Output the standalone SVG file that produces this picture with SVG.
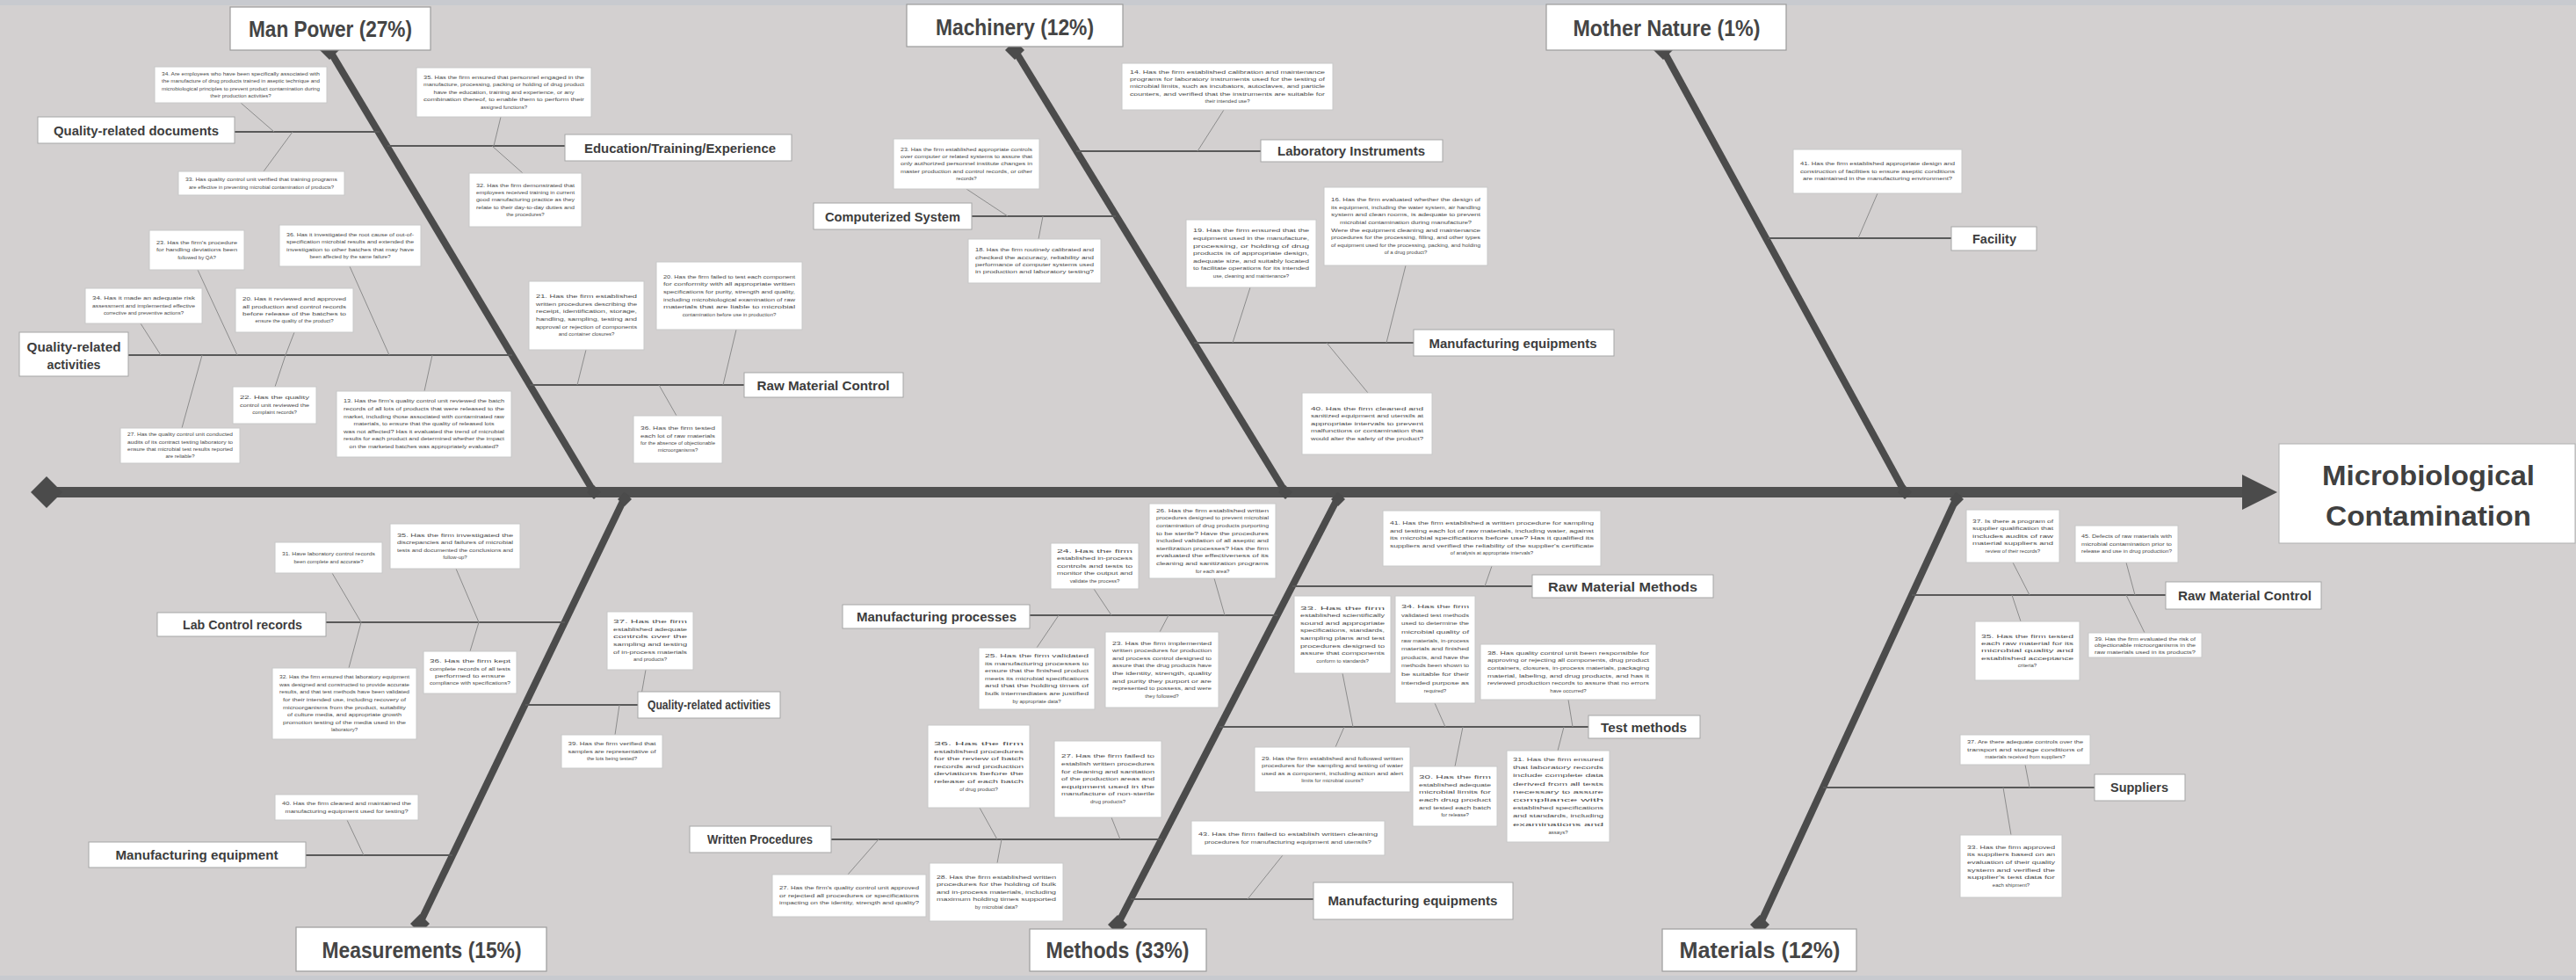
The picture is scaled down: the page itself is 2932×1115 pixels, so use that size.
<svg xmlns="http://www.w3.org/2000/svg" width="2932" height="1115" viewBox="0 0 2932 1115">
<style>
.bone{stroke:#4b4b4b;stroke-width:8;fill:none}
.spine{stroke:#4f4f4f;stroke-width:12;fill:none}
.sub{stroke:#595959;stroke-width:1.8;fill:none}
.leaf{stroke:#8c8c8c;stroke-width:1;fill:none}
.knot{fill:#4b4b4b}
.cat rect{fill:#fff;stroke:#9c9c9c;stroke-width:1.2}
.cat text{font-family:"Liberation Sans",Arial,sans-serif;font-weight:bold;font-size:26px;fill:#454545;text-anchor:middle}
.lbl rect{fill:#fff;stroke:#a6a6a6;stroke-width:1}
.lbl text{font-family:"Liberation Sans",Arial,sans-serif;font-weight:bold;font-size:15px;fill:#3d3d3d;text-anchor:middle}
.note rect{fill:#fff;stroke:#c8c8c8;stroke-width:1}
.note text{font-family:"Liberation Sans",Arial,sans-serif;font-size:6px;fill:#4a4a4a;text-anchor:middle}
.head rect{fill:#fff;stroke:#b0b0b0;stroke-width:1}
.head text{font-family:"Liberation Sans",Arial,sans-serif;font-weight:bold;font-size:32px;fill:#404040;text-anchor:middle}
</style>
<rect x="0" y="0" width="2932" height="1115" fill="#d3d0d0"/>
<rect x="0" y="0" width="2932" height="6" fill="#c8cacf"/>
<rect x="0" y="1110" width="2932" height="5" fill="#c8cacf"/>

<!-- connectors: spine, main bones, sub-bones and leaf lines -->
<g id="connectors">
  <line class="spine" x1="53" y1="560" x2="2556" y2="560"/>
  <polygon class="knot" points="2552,540 2592,560 2552,580"/>
  <polygon class="knot" points="53,542 71,560 53,578 35,560"/>

  <!-- upper bones -->
  <line class="bone" x1="375" y1="57" x2="676" y2="560"/>
  <line class="bone" x1="1155" y1="57" x2="1463" y2="560"/>
  <line class="bone" x1="1893" y1="57" x2="2168" y2="560"/>
  <!-- lower bones -->
  <line class="bone" x1="713" y1="562" x2="478" y2="1050"/>
  <line class="bone" x1="1525" y1="562" x2="1272" y2="1052"/>
  <line class="bone" x1="2229" y1="562" x2="2003" y2="1052"/>

  <!-- bone end knots -->
  <polygon class="knot" points="375,46 386,57 375,68 364,57"/>
  <polygon class="knot" points="1155,46 1166,57 1155,68 1144,57"/>
  <polygon class="knot" points="1893,46 1904,57 1893,68 1882,57"/>
  <polygon class="knot" points="478,1040 489,1051 478,1062 467,1051"/>
  <polygon class="knot" points="1272,1041 1283,1052 1272,1063 1261,1052"/>
  <polygon class="knot" points="2003,1041 2014,1052 2003,1063 1992,1052"/>
  <polygon class="knot" points="676,552 684,560 676,568 668,560"/>
  <polygon class="knot" points="1463,552 1471,560 1463,568 1455,560"/>
  <polygon class="knot" points="2168,552 2176,560 2168,568 2160,560"/>
  <polygon class="knot" points="711,560 719,568 711,576 703,568"/>
  <polygon class="knot" points="1523,560 1531,568 1523,576 1515,568"/>
  <polygon class="knot" points="2227,560 2235,568 2227,576 2219,568"/>

  <!-- Man Power sub-bones -->
  <line class="sub" x1="267" y1="150" x2="432" y2="150"/>
  <line class="sub" x1="441" y1="166" x2="643" y2="166"/>
  <line class="sub" x1="146" y1="404" x2="583" y2="404"/>
  <line class="sub" x1="603" y1="438" x2="847" y2="438"/>
  <!-- Machinery sub-bones -->
  <line class="sub" x1="1225" y1="172" x2="1435" y2="172"/>
  <line class="sub" x1="1106" y1="246" x2="1270" y2="246"/>
  <line class="sub" x1="1359" y1="390" x2="1609" y2="390"/>
  <!-- Mother Nature sub-bone -->
  <line class="sub" x1="2012" y1="271" x2="2221" y2="271"/>
  <!-- Measurements sub-bones -->
  <line class="sub" x1="371" y1="708" x2="643" y2="708"/>
  <line class="sub" x1="598" y1="802" x2="726" y2="802"/>
  <line class="sub" x1="348" y1="973" x2="515" y2="973"/>
  <!-- Methods sub-bones -->
  <line class="sub" x1="1172" y1="700" x2="1454" y2="700"/>
  <line class="sub" x1="946" y1="955" x2="1322" y2="955"/>
  <line class="sub" x1="1287" y1="1023" x2="1495" y2="1023"/>
  <line class="sub" x1="1471" y1="667" x2="1744" y2="667"/>
  <line class="sub" x1="1388" y1="827" x2="1808" y2="827"/>
  <!-- Materials sub-bones -->
  <line class="sub" x1="2176" y1="677" x2="2465" y2="677"/>
  <line class="sub" x1="2075" y1="896" x2="2384" y2="896"/>

  <!-- leaf lines from notes -->
  <line class="leaf" x1="274" y1="117" x2="312" y2="150"/>
  <line class="leaf" x1="300" y1="195" x2="333" y2="150"/>
  <line class="leaf" x1="570" y1="133" x2="562" y2="166"/>
  <line class="leaf" x1="595" y1="197" x2="560" y2="166"/>
  <line class="leaf" x1="225" y1="307" x2="270" y2="404"/>
  <line class="leaf" x1="398" y1="303" x2="443" y2="404"/>
  <line class="leaf" x1="160" y1="368" x2="183" y2="404"/>
  <line class="leaf" x1="335" y1="378" x2="325" y2="404"/>
  <line class="leaf" x1="313" y1="440" x2="325" y2="404"/>
  <line class="leaf" x1="207" y1="487" x2="230" y2="404"/>
  <line class="leaf" x1="483" y1="445" x2="492" y2="404"/>
  <line class="leaf" x1="667" y1="398" x2="657" y2="438"/>
  <line class="leaf" x1="838" y1="375" x2="823" y2="438"/>
  <line class="leaf" x1="770" y1="473" x2="750" y2="438"/>
  <line class="leaf" x1="1393" y1="125" x2="1363" y2="172"/>
  <line class="leaf" x1="1100" y1="215" x2="1147" y2="246"/>
  <line class="leaf" x1="1182" y1="272" x2="1187" y2="246"/>
  <line class="leaf" x1="1423" y1="327" x2="1403" y2="390"/>
  <line class="leaf" x1="1600" y1="302" x2="1578" y2="390"/>
  <line class="leaf" x1="1557" y1="447" x2="1510" y2="390"/>
  <line class="leaf" x1="2137" y1="220" x2="2115" y2="271"/>
  <line class="leaf" x1="378" y1="652" x2="411" y2="708"/>
  <line class="leaf" x1="519" y1="647" x2="545" y2="708"/>
  <line class="leaf" x1="397" y1="760" x2="411" y2="708"/>
  <line class="leaf" x1="535" y1="741" x2="545" y2="708"/>
  <line class="leaf" x1="735" y1="762" x2="728" y2="802"/>
  <line class="leaf" x1="700" y1="836" x2="705" y2="802"/>
  <line class="leaf" x1="395" y1="933" x2="414" y2="973"/>
  <line class="leaf" x1="1382" y1="658" x2="1394" y2="700"/>
  <line class="leaf" x1="1245" y1="670" x2="1265" y2="700"/>
  <line class="leaf" x1="1180" y1="737" x2="1205" y2="700"/>
  <line class="leaf" x1="1320" y1="719" x2="1330" y2="700"/>
  <line class="leaf" x1="1115" y1="919" x2="1135" y2="955"/>
  <line class="leaf" x1="1265" y1="930" x2="1275" y2="955"/>
  <line class="leaf" x1="1135" y1="982" x2="1140" y2="955"/>
  <line class="leaf" x1="965" y1="995" x2="1000" y2="955"/>
  <line class="leaf" x1="1460" y1="973" x2="1420" y2="1023"/>
  <line class="leaf" x1="1520" y1="850" x2="1530" y2="827"/>
  <line class="leaf" x1="1528" y1="766" x2="1540" y2="827"/>
  <line class="leaf" x1="1633" y1="800" x2="1645" y2="827"/>
  <line class="leaf" x1="1785" y1="796" x2="1790" y2="827"/>
  <line class="leaf" x1="1656" y1="872" x2="1665" y2="827"/>
  <line class="leaf" x1="1773" y1="854" x2="1780" y2="827"/>
  <line class="leaf" x1="1698" y1="644" x2="1690" y2="667"/>
  <line class="leaf" x1="2291" y1="640" x2="2310" y2="677"/>
  <line class="leaf" x1="2420" y1="640" x2="2430" y2="677"/>
  <line class="leaf" x1="2300" y1="707" x2="2290" y2="677"/>
  <line class="leaf" x1="2441" y1="720" x2="2420" y2="677"/>
  <line class="leaf" x1="2305" y1="870" x2="2310" y2="896"/>
  <line class="leaf" x1="2289" y1="950" x2="2280" y2="896"/>
</g>

<!-- effect -->
<g id="effect" class="head">
  <rect x="2594" y="505" width="337" height="113"/>
  <text x="2764" y="552" textLength="242" lengthAdjust="spacingAndGlyphs">Microbiological</text>
  <text x="2764" y="598" textLength="234" lengthAdjust="spacingAndGlyphs">Contamination</text>
</g>

<!-- main categories -->
<g id="cat-manpower" class="cat"><rect x="262" y="8" width="228" height="49"/><text x="376" y="42" textLength="186" lengthAdjust="spacingAndGlyphs">Man Power (27%)</text></g>
<g id="cat-machinery" class="cat"><rect x="1032" y="5" width="246" height="48"/><text x="1155" y="40" textLength="180" lengthAdjust="spacingAndGlyphs">Machinery (12%)</text></g>
<g id="cat-mothernature" class="cat"><rect x="1760" y="5" width="273" height="52"/><text x="1897" y="41" textLength="213" lengthAdjust="spacingAndGlyphs">Mother Nature (1%)</text></g>
<g id="cat-measurements" class="cat"><rect x="337" y="1055" width="285" height="50"/><text x="480" y="1090" textLength="227" lengthAdjust="spacingAndGlyphs">Measurements (15%)</text></g>
<g id="cat-methods" class="cat"><rect x="1172" y="1057" width="201" height="48"/><text x="1272" y="1090" textLength="163" lengthAdjust="spacingAndGlyphs">Methods (33%)</text></g>
<g id="cat-materials" class="cat"><rect x="1892" y="1057" width="221" height="48"/><text x="2003" y="1090" textLength="183" lengthAdjust="spacingAndGlyphs">Materials (12%)</text></g>

<!-- sub-cause labels -->
<g id="lbl-qr-documents" class="lbl"><rect x="43" y="133" width="224" height="30"/><text x="155" y="154" textLength="188" lengthAdjust="spacingAndGlyphs">Quality-related documents</text></g>
<g id="lbl-education" class="lbl"><rect x="643" y="153" width="258" height="30"/><text x="774" y="174" textLength="218" lengthAdjust="spacingAndGlyphs">Education/Training/Experience</text></g>
<g id="lbl-qr-activities" class="lbl"><rect x="22" y="378" width="124" height="50"/><text x="84" y="400" textLength="107" lengthAdjust="spacingAndGlyphs">Quality-related</text><text x="84" y="420" textLength="61" lengthAdjust="spacingAndGlyphs">activities</text></g>
<g id="lbl-rawmat-control-1" class="lbl"><rect x="847" y="424" width="181" height="28"/><text x="937" y="444" textLength="151" lengthAdjust="spacingAndGlyphs">Raw Material Control</text></g>
<g id="lbl-computerized" class="lbl"><rect x="926" y="231" width="180" height="30"/><text x="1016" y="252" textLength="154" lengthAdjust="spacingAndGlyphs">Computerized System</text></g>
<g id="lbl-lab-instruments" class="lbl"><rect x="1435" y="159" width="207" height="25"/><text x="1538" y="177" textLength="168" lengthAdjust="spacingAndGlyphs">Laboratory Instruments</text></g>
<g id="lbl-mfg-equipments-1" class="lbl"><rect x="1609" y="375" width="228" height="30"/><text x="1722" y="396" textLength="191" lengthAdjust="spacingAndGlyphs">Manufacturing equipments</text></g>
<g id="lbl-facility" class="lbl"><rect x="2221" y="258" width="97" height="27"/><text x="2270" y="277" textLength="50" lengthAdjust="spacingAndGlyphs">Facility</text></g>
<g id="lbl-lab-control" class="lbl"><rect x="179" y="697" width="192" height="27"/><text x="276" y="716" textLength="136" lengthAdjust="spacingAndGlyphs">Lab Control records</text></g>
<g id="lbl-qr-activities-2" class="lbl"><rect x="726" y="787" width="162" height="30"/><text x="807" y="807" textLength="140" lengthAdjust="spacingAndGlyphs">Quality-related activities</text></g>
<g id="lbl-mfg-equipment" class="lbl"><rect x="101" y="958" width="247" height="29"/><text x="224" y="978" textLength="185" lengthAdjust="spacingAndGlyphs">Manufacturing equipment</text></g>
<g id="lbl-mfg-processes" class="lbl"><rect x="959" y="688" width="213" height="27"/><text x="1066" y="707" textLength="182" lengthAdjust="spacingAndGlyphs">Manufacturing processes</text></g>
<g id="lbl-written-procedures" class="lbl"><rect x="785" y="940" width="161" height="30"/><text x="865" y="960" textLength="120" lengthAdjust="spacingAndGlyphs">Written  Procedures</text></g>
<g id="lbl-mfg-equipments-2" class="lbl"><rect x="1495" y="1004" width="227" height="42"/><text x="1608" y="1030" textLength="193" lengthAdjust="spacingAndGlyphs">Manufacturing equipments</text></g>
<g id="lbl-test-methods" class="lbl"><rect x="1808" y="814" width="127" height="26"/><text x="1871" y="833" textLength="98" lengthAdjust="spacingAndGlyphs">Test methods</text></g>
<g id="lbl-rawmat-methods" class="lbl"><rect x="1744" y="654" width="206" height="26"/><text x="1847" y="673" textLength="170" lengthAdjust="spacingAndGlyphs">Raw Material Methods</text></g>
<g id="lbl-rawmat-control-2" class="lbl"><rect x="2465" y="662" width="177" height="31"/><text x="2555" y="683" textLength="152" lengthAdjust="spacingAndGlyphs">Raw Material Control</text></g>
<g id="lbl-suppliers" class="lbl"><rect x="2384" y="881" width="103" height="30"/><text x="2435" y="901" textLength="66" lengthAdjust="spacingAndGlyphs">Suppliers</text></g>

<!-- question notes -->
<g id="n01" class="note"><rect x="176" y="76" width="196" height="41"/><text y="85.7"><tspan x="274" textLength="180" lengthAdjust="spacingAndGlyphs">34. Are employees who have been specifically associated with</tspan><tspan x="274" dy="8.4" textLength="180" lengthAdjust="spacingAndGlyphs">the manufacture of drug products trained in aseptic technique and</tspan><tspan x="274" dy="8.4" textLength="180" lengthAdjust="spacingAndGlyphs">microbiological principles to prevent product contamination during</tspan><tspan x="274" dy="8.4">their production activities?</tspan></text></g>
<g id="n02" class="note"><rect x="203" y="195" width="189" height="27"/><text y="206.1"><tspan x="297.5" textLength="173" lengthAdjust="spacingAndGlyphs">33. Has quality control unit verified that training programs</tspan><tspan x="297.5" dy="8.4" textLength="165" lengthAdjust="spacingAndGlyphs">are effective in preventing microbial contamination of products?</tspan></text></g>
<g id="n03" class="note"><rect x="474" y="77" width="199" height="56"/><text y="90"><tspan x="573.5" textLength="183" lengthAdjust="spacingAndGlyphs">35. Has the firm ensured that personnel engaged in the</tspan><tspan x="573.5" dy="8.4" textLength="183" lengthAdjust="spacingAndGlyphs">manufacture, processing, packing or holding of drug product</tspan><tspan x="573.5" dy="8.4" textLength="160" lengthAdjust="spacingAndGlyphs">have the education, training and experience, or any</tspan><tspan x="573.5" dy="8.4" textLength="183" lengthAdjust="spacingAndGlyphs">combination thereof, to enable them to perform their</tspan><tspan x="573.5" dy="8.4">assigned functions?</tspan></text></g>
<g id="n04" class="note"><rect x="534" y="197" width="128" height="61"/><text y="212.5"><tspan x="598" textLength="112" lengthAdjust="spacingAndGlyphs">32. Has the firm demonstrated that</tspan><tspan x="598" dy="8.4" textLength="112" lengthAdjust="spacingAndGlyphs">employees received training in current</tspan><tspan x="598" dy="8.4" textLength="112" lengthAdjust="spacingAndGlyphs">good manufacturing practice as they</tspan><tspan x="598" dy="8.4" textLength="112" lengthAdjust="spacingAndGlyphs">relate to their day-to-day duties and</tspan><tspan x="598" dy="8.4">the procedures?</tspan></text></g>
<g id="n05" class="note"><rect x="170" y="262" width="108" height="45"/><text y="277.9"><tspan x="224" textLength="92" lengthAdjust="spacingAndGlyphs">23. Has the firm's procedure</tspan><tspan x="224" dy="8.4" textLength="92" lengthAdjust="spacingAndGlyphs">for handling deviations been</tspan><tspan x="224" dy="8.4">followed by QA?</tspan></text></g>
<g id="n06" class="note"><rect x="318" y="256" width="161" height="47"/><text y="268.7"><tspan x="398.5" textLength="145" lengthAdjust="spacingAndGlyphs">36. Has it investigated the root cause of out-of-</tspan><tspan x="398.5" dy="8.4" textLength="145" lengthAdjust="spacingAndGlyphs">specification microbial results and extended the</tspan><tspan x="398.5" dy="8.4" textLength="145" lengthAdjust="spacingAndGlyphs">investigation to other batches that may have</tspan><tspan x="398.5" dy="8.4">been affected by the same failure?</tspan></text></g>
<g id="n07" class="note"><rect x="97" y="328" width="133" height="40"/><text y="341.4"><tspan x="163.5" textLength="117" lengthAdjust="spacingAndGlyphs">34. Has it made an adequate risk</tspan><tspan x="163.5" dy="8.4" textLength="117" lengthAdjust="spacingAndGlyphs">assessment and implemented effective</tspan><tspan x="163.5" dy="8.4">corrective and preventive actions?</tspan></text></g>
<g id="n08" class="note"><rect x="268" y="328" width="134" height="50"/><text y="342.2"><tspan x="335" textLength="118" lengthAdjust="spacingAndGlyphs">20. Has it reviewed and approved</tspan><tspan x="335" dy="8.4" textLength="118" lengthAdjust="spacingAndGlyphs">all production and control records</tspan><tspan x="335" dy="8.4" textLength="118" lengthAdjust="spacingAndGlyphs">before release of the batches to</tspan><tspan x="335" dy="8.4">ensure the quality of the product?</tspan></text></g>
<g id="n09" class="note"><rect x="265" y="440" width="95" height="42"/><text y="454.4"><tspan x="312.5" textLength="79" lengthAdjust="spacingAndGlyphs">22. Has the quality</tspan><tspan x="312.5" dy="8.4" textLength="79" lengthAdjust="spacingAndGlyphs">control unit reviewed the</tspan><tspan x="312.5" dy="8.4">complaint records?</tspan></text></g>
<g id="n10" class="note"><rect x="137" y="487" width="136" height="40"/><text y="496.2"><tspan x="205" textLength="120" lengthAdjust="spacingAndGlyphs">27. Has the quality control unit conducted</tspan><tspan x="205" dy="8.4" textLength="120" lengthAdjust="spacingAndGlyphs">audits of its contract testing laboratory to</tspan><tspan x="205" dy="8.4" textLength="120" lengthAdjust="spacingAndGlyphs">ensure that microbial test results reported</tspan><tspan x="205" dy="8.4">are reliable?</tspan></text></g>
<g id="n11" class="note"><rect x="383" y="445" width="199" height="75"/><text y="458.4"><tspan x="482.5" textLength="183" lengthAdjust="spacingAndGlyphs">13. Has the firm's quality control unit reviewed the batch</tspan><tspan x="482.5" dy="8.6" textLength="183" lengthAdjust="spacingAndGlyphs">records of all lots of products that were released to the</tspan><tspan x="482.5" dy="8.6" textLength="183" lengthAdjust="spacingAndGlyphs">market, including those associated with contaminated raw</tspan><tspan x="482.5" dy="8.6" textLength="160" lengthAdjust="spacingAndGlyphs">materials, to ensure that the quality of released lots</tspan><tspan x="482.5" dy="8.6" textLength="183" lengthAdjust="spacingAndGlyphs">was not affected? Has it evaluated the trend of microbial</tspan><tspan x="482.5" dy="8.6" textLength="183" lengthAdjust="spacingAndGlyphs">results for each product and determined whether the impact</tspan><tspan x="482.5" dy="8.6" textLength="170" lengthAdjust="spacingAndGlyphs">on the marketed batches was appropriately evaluated?</tspan></text></g>
<g id="n12" class="note"><rect x="602" y="320" width="131" height="78"/><text y="339.2"><tspan x="667.5" textLength="115" lengthAdjust="spacingAndGlyphs">21. Has the firm established</tspan><tspan x="667.5" dy="8.6" textLength="115" lengthAdjust="spacingAndGlyphs">written procedures describing the</tspan><tspan x="667.5" dy="8.6" textLength="115" lengthAdjust="spacingAndGlyphs">receipt, identification, storage,</tspan><tspan x="667.5" dy="8.6" textLength="115" lengthAdjust="spacingAndGlyphs">handling, sampling, testing and</tspan><tspan x="667.5" dy="8.6" textLength="115" lengthAdjust="spacingAndGlyphs">approval or rejection of components</tspan><tspan x="667.5" dy="8.6">and container closures?</tspan></text></g>
<g id="n13" class="note"><rect x="747" y="298" width="166" height="77"/><text y="316.7"><tspan x="830" textLength="150" lengthAdjust="spacingAndGlyphs">20. Has the firm failed to test each component</tspan><tspan x="830" dy="8.6" textLength="150" lengthAdjust="spacingAndGlyphs">for conformity with all appropriate written</tspan><tspan x="830" dy="8.6" textLength="150" lengthAdjust="spacingAndGlyphs">specifications for purity, strength and quality,</tspan><tspan x="830" dy="8.6" textLength="150" lengthAdjust="spacingAndGlyphs">including microbiological examination of raw</tspan><tspan x="830" dy="8.6" textLength="150" lengthAdjust="spacingAndGlyphs">materials that are liable to microbial</tspan><tspan x="830" dy="8.6">contamination before use in production?</tspan></text></g>
<g id="n14" class="note"><rect x="721" y="473" width="101" height="54"/><text y="489.2"><tspan x="771.5" textLength="85" lengthAdjust="spacingAndGlyphs">36. Has the firm tested</tspan><tspan x="771.5" dy="8.4" textLength="85" lengthAdjust="spacingAndGlyphs">each lot of raw materials</tspan><tspan x="771.5" dy="8.4" textLength="85" lengthAdjust="spacingAndGlyphs">for the absence of objectionable</tspan><tspan x="771.5" dy="8.4">microorganisms?</tspan></text></g>
<g id="n15" class="note"><rect x="1277" y="72" width="240" height="53"/><text y="83.5"><tspan x="1397" textLength="222" lengthAdjust="spacingAndGlyphs">14. Has the firm established calibration and maintenance</tspan><tspan x="1397" dy="8.4" textLength="222" lengthAdjust="spacingAndGlyphs">programs for laboratory instruments used for the testing of</tspan><tspan x="1397" dy="8.4" textLength="222" lengthAdjust="spacingAndGlyphs">microbial limits, such as incubators, autoclaves, and particle</tspan><tspan x="1397" dy="8.4" textLength="222" lengthAdjust="spacingAndGlyphs">counters, and verified that the instruments are suitable for</tspan><tspan x="1397" dy="8.4">their intended use?</tspan></text></g>
<g id="n16" class="note"><rect x="1017" y="158" width="166" height="57"/><text y="171.5"><tspan x="1100" textLength="150" lengthAdjust="spacingAndGlyphs">23. Has the firm established appropriate controls</tspan><tspan x="1100" dy="8.4" textLength="150" lengthAdjust="spacingAndGlyphs">over computer or related systems to assure that</tspan><tspan x="1100" dy="8.4" textLength="150" lengthAdjust="spacingAndGlyphs">only authorized personnel institute changes in</tspan><tspan x="1100" dy="8.4" textLength="150" lengthAdjust="spacingAndGlyphs">master production and control records, or other</tspan><tspan x="1100" dy="8.4">records?</tspan></text></g>
<g id="n17" class="note"><rect x="1102" y="272" width="151" height="50"/><text y="286.2"><tspan x="1177.5" textLength="135" lengthAdjust="spacingAndGlyphs">18. Has the firm routinely calibrated and</tspan><tspan x="1177.5" dy="8.4" textLength="135" lengthAdjust="spacingAndGlyphs">checked the accuracy, reliability and</tspan><tspan x="1177.5" dy="8.4" textLength="135" lengthAdjust="spacingAndGlyphs">performance of computer systems used</tspan><tspan x="1177.5" dy="8.4" textLength="135" lengthAdjust="spacingAndGlyphs">in production and laboratory testing?</tspan></text></g>
<g id="n18" class="note"><rect x="1350" y="250" width="148" height="77"/><text y="264.4"><tspan x="1424" textLength="132" lengthAdjust="spacingAndGlyphs">19. Has the firm ensured that the</tspan><tspan x="1424" dy="8.6" textLength="132" lengthAdjust="spacingAndGlyphs">equipment used in the manufacture,</tspan><tspan x="1424" dy="8.6" textLength="132" lengthAdjust="spacingAndGlyphs">processing, or holding of drug</tspan><tspan x="1424" dy="8.6" textLength="132" lengthAdjust="spacingAndGlyphs">products is of appropriate design,</tspan><tspan x="1424" dy="8.6" textLength="132" lengthAdjust="spacingAndGlyphs">adequate size, and suitably located</tspan><tspan x="1424" dy="8.6" textLength="132" lengthAdjust="spacingAndGlyphs">to facilitate operations for its intended</tspan><tspan x="1424" dy="8.6">use, cleaning and maintenance?</tspan></text></g>
<g id="n19" class="note"><rect x="1507" y="213" width="186" height="89"/><text y="229.1"><tspan x="1600" textLength="170" lengthAdjust="spacingAndGlyphs">16. Has the firm evaluated whether the design of</tspan><tspan x="1600" dy="8.6" textLength="170" lengthAdjust="spacingAndGlyphs">its equipment, including the water system, air handling</tspan><tspan x="1600" dy="8.6" textLength="170" lengthAdjust="spacingAndGlyphs">system and clean rooms, is adequate to prevent</tspan><tspan x="1600" dy="8.6" textLength="150" lengthAdjust="spacingAndGlyphs">microbial contamination during manufacture?</tspan><tspan x="1600" dy="8.6" textLength="170" lengthAdjust="spacingAndGlyphs">Were the equipment cleaning and maintenance</tspan><tspan x="1600" dy="8.6" textLength="170" lengthAdjust="spacingAndGlyphs">procedures for the processing, filling, and other types</tspan><tspan x="1600" dy="8.6" textLength="170" lengthAdjust="spacingAndGlyphs">of equipment used for the processing, packing, and holding</tspan><tspan x="1600" dy="8.6">of a drug product?</tspan></text></g>
<g id="n20" class="note"><rect x="1482" y="447" width="148" height="70"/><text y="467"><tspan x="1556" textLength="128" lengthAdjust="spacingAndGlyphs">40. Has the firm cleaned and</tspan><tspan x="1556" dy="8.4" textLength="128" lengthAdjust="spacingAndGlyphs">sanitized equipment and utensils at</tspan><tspan x="1556" dy="8.4" textLength="128" lengthAdjust="spacingAndGlyphs">appropriate intervals to prevent</tspan><tspan x="1556" dy="8.4" textLength="128" lengthAdjust="spacingAndGlyphs">malfunctions or contamination that</tspan><tspan x="1556" dy="8.4" textLength="128" lengthAdjust="spacingAndGlyphs">would alter the safety of the product?</tspan></text></g>
<g id="n21" class="note"><rect x="2041" y="170" width="192" height="50"/><text y="188.4"><tspan x="2137" textLength="176" lengthAdjust="spacingAndGlyphs">41. Has the firm established appropriate design and</tspan><tspan x="2137" dy="8.4" textLength="176" lengthAdjust="spacingAndGlyphs">construction of facilities to ensure aseptic conditions</tspan><tspan x="2137" dy="8.4" textLength="170" lengthAdjust="spacingAndGlyphs">are maintained in the manufacturing environment?</tspan></text></g>
<g id="n22" class="note"><rect x="313" y="617" width="122" height="35"/><text y="632.1"><tspan x="374" textLength="106" lengthAdjust="spacingAndGlyphs">31. Have laboratory control records</tspan><tspan x="374" dy="8.4">been complete and accurate?</tspan></text></g>
<g id="n23" class="note"><rect x="444" y="596" width="148" height="51"/><text y="610.7"><tspan x="518" textLength="132" lengthAdjust="spacingAndGlyphs">35. Has the firm investigated the</tspan><tspan x="518" dy="8.4" textLength="132" lengthAdjust="spacingAndGlyphs">discrepancies and failures of microbial</tspan><tspan x="518" dy="8.4" textLength="132" lengthAdjust="spacingAndGlyphs">tests and documented the conclusions and</tspan><tspan x="518" dy="8.4">follow-up?</tspan></text></g>
<g id="n24" class="note"><rect x="310" y="760" width="164" height="81"/><text y="772.1"><tspan x="392" textLength="148" lengthAdjust="spacingAndGlyphs">32. Has the firm ensured that laboratory equipment</tspan><tspan x="392" dy="8.6" textLength="148" lengthAdjust="spacingAndGlyphs">was designed and constructed to provide accurate</tspan><tspan x="392" dy="8.6" textLength="148" lengthAdjust="spacingAndGlyphs">results, and that test methods have been validated</tspan><tspan x="392" dy="8.6" textLength="140" lengthAdjust="spacingAndGlyphs">for their intended use, including recovery of</tspan><tspan x="392" dy="8.6" textLength="140" lengthAdjust="spacingAndGlyphs">microorganisms from the product, suitability</tspan><tspan x="392" dy="8.6" textLength="130" lengthAdjust="spacingAndGlyphs">of culture media, and appropriate growth</tspan><tspan x="392" dy="8.6" textLength="140" lengthAdjust="spacingAndGlyphs">promotion testing of the media used in the</tspan><tspan x="392" dy="8.6">laboratory?</tspan></text></g>
<g id="n25" class="note"><rect x="482" y="741" width="106" height="48"/><text y="754.2"><tspan x="535" textLength="92" lengthAdjust="spacingAndGlyphs">36. Has the firm kept</tspan><tspan x="535" dy="8.4" textLength="92" lengthAdjust="spacingAndGlyphs">complete records of all tests</tspan><tspan x="535" dy="8.4" textLength="80" lengthAdjust="spacingAndGlyphs">performed to ensure</tspan><tspan x="535" dy="8.4" textLength="92" lengthAdjust="spacingAndGlyphs">compliance with specifications?</tspan></text></g>
<g id="n26" class="note"><rect x="691" y="696" width="98" height="66"/><text y="709.2"><tspan x="740" textLength="84" lengthAdjust="spacingAndGlyphs">37. Has the firm</tspan><tspan x="740" dy="8.6" textLength="84" lengthAdjust="spacingAndGlyphs">established adequate</tspan><tspan x="740" dy="8.6" textLength="84" lengthAdjust="spacingAndGlyphs">controls over the</tspan><tspan x="740" dy="8.6" textLength="84" lengthAdjust="spacingAndGlyphs">sampling and testing</tspan><tspan x="740" dy="8.6" textLength="84" lengthAdjust="spacingAndGlyphs">of in-process materials</tspan><tspan x="740" dy="8.6">and products?</tspan></text></g>
<g id="n27" class="note"><rect x="639" y="836" width="115" height="38"/><text y="848.4"><tspan x="696.5" textLength="100" lengthAdjust="spacingAndGlyphs">39. Has the firm verified that</tspan><tspan x="696.5" dy="8.4" textLength="100" lengthAdjust="spacingAndGlyphs">samples are representative of</tspan><tspan x="696.5" dy="8.4">the lots being tested?</tspan></text></g>
<g id="n28" class="note"><rect x="313" y="904" width="163" height="29"/><text y="916.1"><tspan x="394.5" textLength="147" lengthAdjust="spacingAndGlyphs">40. Has the firm cleaned and maintained the</tspan><tspan x="394.5" dy="8.4" textLength="140" lengthAdjust="spacingAndGlyphs">manufacturing equipment used for testing?</tspan></text></g>
<g id="n29" class="note"><rect x="1308" y="573" width="144" height="85"/><text y="582.8"><tspan x="1380" textLength="128" lengthAdjust="spacingAndGlyphs">26. Has the firm established written</tspan><tspan x="1380" dy="8.6" textLength="128" lengthAdjust="spacingAndGlyphs">procedures designed to prevent microbial</tspan><tspan x="1380" dy="8.6" textLength="128" lengthAdjust="spacingAndGlyphs">contamination of drug products purporting</tspan><tspan x="1380" dy="8.6" textLength="128" lengthAdjust="spacingAndGlyphs">to be sterile? Have the procedures</tspan><tspan x="1380" dy="8.6" textLength="128" lengthAdjust="spacingAndGlyphs">included validation of all aseptic and</tspan><tspan x="1380" dy="8.6" textLength="128" lengthAdjust="spacingAndGlyphs">sterilization processes? Has the firm</tspan><tspan x="1380" dy="8.6" textLength="128" lengthAdjust="spacingAndGlyphs">evaluated the effectiveness of its</tspan><tspan x="1380" dy="8.6" textLength="128" lengthAdjust="spacingAndGlyphs">cleaning and sanitization programs</tspan><tspan x="1380" dy="8.6">for each area?</tspan></text></g>
<g id="n30" class="note"><rect x="1196" y="618" width="100" height="52"/><text y="629"><tspan x="1246" textLength="86" lengthAdjust="spacingAndGlyphs">24. Has the firm</tspan><tspan x="1246" dy="8.4" textLength="86" lengthAdjust="spacingAndGlyphs">established in-process</tspan><tspan x="1246" dy="8.4" textLength="86" lengthAdjust="spacingAndGlyphs">controls and tests to</tspan><tspan x="1246" dy="8.4" textLength="86" lengthAdjust="spacingAndGlyphs">monitor the output and</tspan><tspan x="1246" dy="8.4">validate the process?</tspan></text></g>
<g id="n31" class="note"><rect x="1114" y="737" width="132" height="70"/><text y="747.9"><tspan x="1180" textLength="118" lengthAdjust="spacingAndGlyphs">25. Has the firm validated</tspan><tspan x="1180" dy="8.6" textLength="118" lengthAdjust="spacingAndGlyphs">its manufacturing processes to</tspan><tspan x="1180" dy="8.6" textLength="118" lengthAdjust="spacingAndGlyphs">ensure that the finished product</tspan><tspan x="1180" dy="8.6" textLength="118" lengthAdjust="spacingAndGlyphs">meets its microbial specifications</tspan><tspan x="1180" dy="8.6" textLength="118" lengthAdjust="spacingAndGlyphs">and that the holding times of</tspan><tspan x="1180" dy="8.6" textLength="118" lengthAdjust="spacingAndGlyphs">bulk intermediates are justified</tspan><tspan x="1180" dy="8.6">by appropriate data?</tspan></text></g>
<g id="n32" class="note"><rect x="1258" y="719" width="129" height="86"/><text y="733.6"><tspan x="1322.5" textLength="113" lengthAdjust="spacingAndGlyphs">23. Has the firm implemented</tspan><tspan x="1322.5" dy="8.6" textLength="113" lengthAdjust="spacingAndGlyphs">written procedures for production</tspan><tspan x="1322.5" dy="8.6" textLength="113" lengthAdjust="spacingAndGlyphs">and process control designed to</tspan><tspan x="1322.5" dy="8.6" textLength="113" lengthAdjust="spacingAndGlyphs">assure that the drug products have</tspan><tspan x="1322.5" dy="8.6" textLength="113" lengthAdjust="spacingAndGlyphs">the identity, strength, quality</tspan><tspan x="1322.5" dy="8.6" textLength="113" lengthAdjust="spacingAndGlyphs">and purity they purport or are</tspan><tspan x="1322.5" dy="8.6" textLength="113" lengthAdjust="spacingAndGlyphs">represented to possess, and were</tspan><tspan x="1322.5" dy="8.6">they followed?</tspan></text></g>
<g id="n33" class="note"><rect x="1056" y="825" width="116" height="94"/><text y="847.9"><tspan x="1114" textLength="102" lengthAdjust="spacingAndGlyphs">36. Has the firm</tspan><tspan x="1114" dy="8.6" textLength="102" lengthAdjust="spacingAndGlyphs">established procedures</tspan><tspan x="1114" dy="8.6" textLength="102" lengthAdjust="spacingAndGlyphs">for the review of batch</tspan><tspan x="1114" dy="8.6" textLength="102" lengthAdjust="spacingAndGlyphs">records and production</tspan><tspan x="1114" dy="8.6" textLength="102" lengthAdjust="spacingAndGlyphs">deviations before the</tspan><tspan x="1114" dy="8.6" textLength="102" lengthAdjust="spacingAndGlyphs">release of each batch</tspan><tspan x="1114" dy="8.6">of drug product?</tspan></text></g>
<g id="n34" class="note"><rect x="1200" y="843" width="122" height="87"/><text y="862.4"><tspan x="1261" textLength="106" lengthAdjust="spacingAndGlyphs">27. Has the firm failed to</tspan><tspan x="1261" dy="8.6" textLength="106" lengthAdjust="spacingAndGlyphs">establish written procedures</tspan><tspan x="1261" dy="8.6" textLength="106" lengthAdjust="spacingAndGlyphs">for cleaning and sanitation</tspan><tspan x="1261" dy="8.6" textLength="106" lengthAdjust="spacingAndGlyphs">of the production areas and</tspan><tspan x="1261" dy="8.6" textLength="106" lengthAdjust="spacingAndGlyphs">equipment used in the</tspan><tspan x="1261" dy="8.6" textLength="106" lengthAdjust="spacingAndGlyphs">manufacture of non-sterile</tspan><tspan x="1261" dy="8.6">drug products?</tspan></text></g>
<g id="n35" class="note"><rect x="1058" y="982" width="152" height="66"/><text y="1000"><tspan x="1134" textLength="136" lengthAdjust="spacingAndGlyphs">28. Has the firm established written</tspan><tspan x="1134" dy="8.4" textLength="136" lengthAdjust="spacingAndGlyphs">procedures for the holding of bulk</tspan><tspan x="1134" dy="8.4" textLength="136" lengthAdjust="spacingAndGlyphs">and in-process materials, including</tspan><tspan x="1134" dy="8.4" textLength="136" lengthAdjust="spacingAndGlyphs">maximum holding times supported</tspan><tspan x="1134" dy="8.4">by microbial data?</tspan></text></g>
<g id="n36" class="note"><rect x="879" y="995" width="175" height="48"/><text y="1012.4"><tspan x="966.5" textLength="159" lengthAdjust="spacingAndGlyphs">27. Has the firm's quality control unit approved</tspan><tspan x="966.5" dy="8.4" textLength="159" lengthAdjust="spacingAndGlyphs">or rejected all procedures or specifications</tspan><tspan x="966.5" dy="8.4" textLength="159" lengthAdjust="spacingAndGlyphs">impacting on the identity, strength and quality?</tspan></text></g>
<g id="n37" class="note"><rect x="1356" y="934" width="220" height="39"/><text y="951.1"><tspan x="1466" textLength="204" lengthAdjust="spacingAndGlyphs">43. Has the firm failed to establish written cleaning</tspan><tspan x="1466" dy="8.4" textLength="190" lengthAdjust="spacingAndGlyphs">procedures for manufacturing equipment and utensils?</tspan></text></g>
<g id="n38" class="note"><rect x="1428" y="850" width="177" height="51"/><text y="864.7"><tspan x="1516.5" textLength="161" lengthAdjust="spacingAndGlyphs">29. Has the firm established and followed written</tspan><tspan x="1516.5" dy="8.4" textLength="161" lengthAdjust="spacingAndGlyphs">procedures for the sampling and testing of water</tspan><tspan x="1516.5" dy="8.4" textLength="161" lengthAdjust="spacingAndGlyphs">used as a component, including action and alert</tspan><tspan x="1516.5" dy="8.4">limits for microbial counts?</tspan></text></g>
<g id="n39" class="note"><rect x="1473" y="678" width="110" height="88"/><text y="693.6"><tspan x="1528" textLength="96" lengthAdjust="spacingAndGlyphs">33. Has the firm</tspan><tspan x="1528" dy="8.6" textLength="96" lengthAdjust="spacingAndGlyphs">established scientifically</tspan><tspan x="1528" dy="8.6" textLength="96" lengthAdjust="spacingAndGlyphs">sound and appropriate</tspan><tspan x="1528" dy="8.6" textLength="96" lengthAdjust="spacingAndGlyphs">specifications, standards,</tspan><tspan x="1528" dy="8.6" textLength="96" lengthAdjust="spacingAndGlyphs">sampling plans and test</tspan><tspan x="1528" dy="8.6" textLength="96" lengthAdjust="spacingAndGlyphs">procedures designed to</tspan><tspan x="1528" dy="8.6" textLength="96" lengthAdjust="spacingAndGlyphs">assure that components</tspan><tspan x="1528" dy="8.6">conform to standards?</tspan></text></g>
<g id="n40" class="note"><rect x="1588" y="678" width="91" height="122"/><text y="692.2"><tspan x="1633.5" textLength="77" lengthAdjust="spacingAndGlyphs">34. Has the firm</tspan><tspan x="1633.5" dy="9.6" textLength="77" lengthAdjust="spacingAndGlyphs">validated test methods</tspan><tspan x="1633.5" dy="9.6" textLength="77" lengthAdjust="spacingAndGlyphs">used to determine the</tspan><tspan x="1633.5" dy="9.6" textLength="77" lengthAdjust="spacingAndGlyphs">microbial quality of</tspan><tspan x="1633.5" dy="9.6" textLength="77" lengthAdjust="spacingAndGlyphs">raw materials, in-process</tspan><tspan x="1633.5" dy="9.6" textLength="77" lengthAdjust="spacingAndGlyphs">materials and finished</tspan><tspan x="1633.5" dy="9.6" textLength="77" lengthAdjust="spacingAndGlyphs">products, and have the</tspan><tspan x="1633.5" dy="9.6" textLength="77" lengthAdjust="spacingAndGlyphs">methods been shown to</tspan><tspan x="1633.5" dy="9.6" textLength="77" lengthAdjust="spacingAndGlyphs">be suitable for their</tspan><tspan x="1633.5" dy="9.6" textLength="77" lengthAdjust="spacingAndGlyphs">intended purpose as</tspan><tspan x="1633.5" dy="9.6">required?</tspan></text></g>
<g id="n41" class="note"><rect x="1685" y="733" width="200" height="63"/><text y="744.7"><tspan x="1785" textLength="184" lengthAdjust="spacingAndGlyphs">38. Has quality control unit been responsible for</tspan><tspan x="1785" dy="8.6" textLength="184" lengthAdjust="spacingAndGlyphs">approving or rejecting all components, drug product</tspan><tspan x="1785" dy="8.6" textLength="184" lengthAdjust="spacingAndGlyphs">containers, closures, in-process materials, packaging</tspan><tspan x="1785" dy="8.6" textLength="184" lengthAdjust="spacingAndGlyphs">material, labeling, and drug products, and has it</tspan><tspan x="1785" dy="8.6" textLength="184" lengthAdjust="spacingAndGlyphs">reviewed production records to assure that no errors</tspan><tspan x="1785" dy="8.6">have occurred?</tspan></text></g>
<g id="n42" class="note"><rect x="1608" y="872" width="96" height="68"/><text y="886.2"><tspan x="1656" textLength="82" lengthAdjust="spacingAndGlyphs">30. Has the firm</tspan><tspan x="1656" dy="8.6" textLength="82" lengthAdjust="spacingAndGlyphs">established adequate</tspan><tspan x="1656" dy="8.6" textLength="82" lengthAdjust="spacingAndGlyphs">microbial limits for</tspan><tspan x="1656" dy="8.6" textLength="82" lengthAdjust="spacingAndGlyphs">each drug product</tspan><tspan x="1656" dy="8.6" textLength="82" lengthAdjust="spacingAndGlyphs">and tested each batch</tspan><tspan x="1656" dy="8.6">for release?</tspan></text></g>
<g id="n43" class="note"><rect x="1715" y="854" width="117" height="104"/><text y="866"><tspan x="1773.5" textLength="103" lengthAdjust="spacingAndGlyphs">31. Has the firm ensured</tspan><tspan x="1773.5" dy="9.2" textLength="103" lengthAdjust="spacingAndGlyphs">that laboratory records</tspan><tspan x="1773.5" dy="9.2" textLength="103" lengthAdjust="spacingAndGlyphs">include complete data</tspan><tspan x="1773.5" dy="9.2" textLength="103" lengthAdjust="spacingAndGlyphs">derived from all tests</tspan><tspan x="1773.5" dy="9.2" textLength="103" lengthAdjust="spacingAndGlyphs">necessary to assure</tspan><tspan x="1773.5" dy="9.2" textLength="103" lengthAdjust="spacingAndGlyphs">compliance with</tspan><tspan x="1773.5" dy="9.2" textLength="103" lengthAdjust="spacingAndGlyphs">established specifications</tspan><tspan x="1773.5" dy="9.2" textLength="103" lengthAdjust="spacingAndGlyphs">and standards, including</tspan><tspan x="1773.5" dy="9.2" textLength="103" lengthAdjust="spacingAndGlyphs">examinations and</tspan><tspan x="1773.5" dy="9.2">assays?</tspan></text></g>
<g id="n44" class="note"><rect x="1574" y="581" width="248" height="63"/><text y="597"><tspan x="1698" textLength="232" lengthAdjust="spacingAndGlyphs">41. Has the firm established a written procedure for sampling</tspan><tspan x="1698" dy="8.6" textLength="232" lengthAdjust="spacingAndGlyphs">and testing each lot of raw materials, including water, against</tspan><tspan x="1698" dy="8.6" textLength="232" lengthAdjust="spacingAndGlyphs">its microbial specifications before use? Has it qualified its</tspan><tspan x="1698" dy="8.6" textLength="232" lengthAdjust="spacingAndGlyphs">suppliers and verified the reliability of the supplier's certificate</tspan><tspan x="1698" dy="8.6">of analysis at appropriate intervals?</tspan></text></g>
<g id="n45" class="note"><rect x="2238" y="580" width="106" height="60"/><text y="595"><tspan x="2291" textLength="92" lengthAdjust="spacingAndGlyphs">37. Is there a program of</tspan><tspan x="2291" dy="8.4" textLength="92" lengthAdjust="spacingAndGlyphs">supplier qualification that</tspan><tspan x="2291" dy="8.4" textLength="92" lengthAdjust="spacingAndGlyphs">includes audits of raw</tspan><tspan x="2291" dy="8.4" textLength="92" lengthAdjust="spacingAndGlyphs">material suppliers and</tspan><tspan x="2291" dy="8.4">review of their records?</tspan></text></g>
<g id="n46" class="note"><rect x="2362" y="598" width="117" height="42"/><text y="612.4"><tspan x="2420.5" textLength="103" lengthAdjust="spacingAndGlyphs">45. Defects of raw materials with</tspan><tspan x="2420.5" dy="8.4" textLength="103" lengthAdjust="spacingAndGlyphs">microbial contamination prior to</tspan><tspan x="2420.5" dy="8.4" textLength="103" lengthAdjust="spacingAndGlyphs">release and use in drug production?</tspan></text></g>
<g id="n47" class="note"><rect x="2248" y="707" width="119" height="67"/><text y="725.5"><tspan x="2307.5" textLength="105" lengthAdjust="spacingAndGlyphs">35. Has the firm tested</tspan><tspan x="2307.5" dy="8.4" textLength="105" lengthAdjust="spacingAndGlyphs">each raw material for its</tspan><tspan x="2307.5" dy="8.4" textLength="105" lengthAdjust="spacingAndGlyphs">microbial quality and</tspan><tspan x="2307.5" dy="8.4" textLength="105" lengthAdjust="spacingAndGlyphs">established acceptance</tspan><tspan x="2307.5" dy="8.4">criteria?</tspan></text></g>
<g id="n48" class="note"><rect x="2377" y="720" width="129" height="28"/><text y="728.6"><tspan x="2441.5" textLength="115" lengthAdjust="spacingAndGlyphs">39. Has the firm evaluated the risk of</tspan><tspan x="2441.5" dy="7.6" textLength="115" lengthAdjust="spacingAndGlyphs">objectionable microorganisms in the</tspan><tspan x="2441.5" dy="7.6" textLength="115" lengthAdjust="spacingAndGlyphs">raw materials used in its products?</tspan></text></g>
<g id="n49" class="note"><rect x="2231" y="836" width="148" height="34"/><text y="846.4"><tspan x="2305" textLength="132" lengthAdjust="spacingAndGlyphs">37. Are there adequate controls over the</tspan><tspan x="2305" dy="8.4" textLength="132" lengthAdjust="spacingAndGlyphs">transport and storage conditions of</tspan><tspan x="2305" dy="8.4">materials received from suppliers?</tspan></text></g>
<g id="n50" class="note"><rect x="2231" y="950" width="116" height="71"/><text y="965.7"><tspan x="2289" textLength="100" lengthAdjust="spacingAndGlyphs">33. Has the firm approved</tspan><tspan x="2289" dy="8.6" textLength="100" lengthAdjust="spacingAndGlyphs">its suppliers based on an</tspan><tspan x="2289" dy="8.6" textLength="100" lengthAdjust="spacingAndGlyphs">evaluation of their quality</tspan><tspan x="2289" dy="8.6" textLength="100" lengthAdjust="spacingAndGlyphs">system and verified the</tspan><tspan x="2289" dy="8.6" textLength="100" lengthAdjust="spacingAndGlyphs">supplier's test data for</tspan><tspan x="2289" dy="8.6">each shipment?</tspan></text></g>
</svg>
